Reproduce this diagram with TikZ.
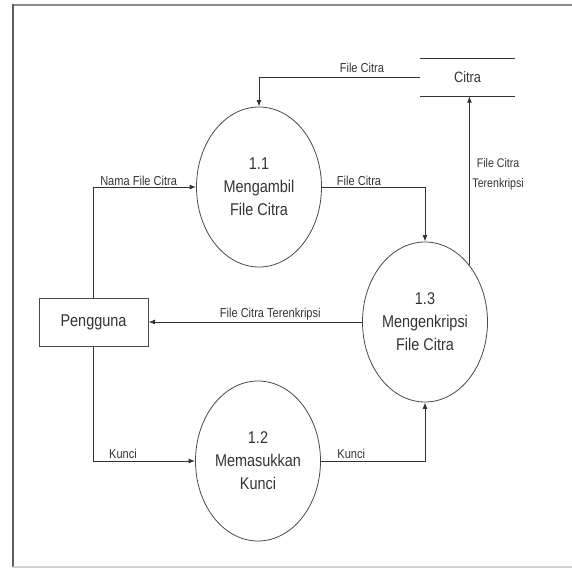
\documentclass[tikz,border=0pt]{standalone}
\usepackage{fontspec}
\setmainfont{Liberation Sans}[FakeStretch=0.85]
\usepackage{tikz}
\usetikzlibrary{arrows.meta,positioning,shapes.geometric}
\definecolor{Ink}{HTML}{333333}
\definecolor{Edge}{HTML}{4A4A4A}
\definecolor{FrmDark}{HTML}{5E5E5E}
\definecolor{FrmSoft}{HTML}{8C8C8C}
\definecolor{FrmLite}{HTML}{CFCFCF}
\tikzset{
  every picture/.append style={>=Latex, text=Ink},
  proc/.style={ellipse, draw=Edge, line width=0.8pt, align=center, inner sep=0pt,
               minimum width=125pt, minimum height=160pt,
               font=\fontsize{17}{23}\selectfont},
  ent/.style={rectangle, draw=Edge, line width=1pt, minimum width=109pt, minimum height=48pt,
              font=\fontsize{17}{20}\selectfont},
  store/.style={rectangle, minimum width=95pt, minimum height=37pt, inner sep=0pt,
                font=\fontsize{15}{18}\selectfont},
  flow/.style={-{Latex[length=6.5pt,width=5pt]}, line width=1pt, draw=Ink},
  lbl/.style={font=\fontsize{13}{15}\selectfont, inner sep=0.5pt, anchor=base},
}

\begin{document}
\begin{tikzpicture}[x=1pt,y=-1pt]
\useasboundingbox (0,0) rectangle (572,573);

% ---------------- frame ----------------------------------------------------------------
\draw[FrmSoft, line width=1.5pt] (572,5) -- (13,5);
\draw[FrmDark, line width=2pt] (13,4.3) -- (13,567);
\draw[FrmLite, line width=1.5pt] (13,567) -- (572,567);

% ---------------- processes, entity, store ---------------------------------------------
\foreach \n/\x/\y/\t in {p11/259/187/{1.1\\Mengambil\\File Citra},
                         p12/258/461/{1.2\\Memasukkan\\Kunci},
                         p13/425/322/{1.3\\Mengenkripsi\\File Citra}}{
  \node[proc] (\n) at (\x,\y) {\t};
}
\node[ent] (user) at (93.5,322) {Pengguna};
\node[store] (citra) at (467.5,77.5) {Citra};
\draw[Ink, line width=1.2pt] (citra.north west) -- (citra.north east)
                             (citra.south west) -- (citra.south east);

% ---------------- flows ------------------------------------------------------------------
\draw[flow] (citra.west) -| (p11.north) node[lbl, pos=0.18, yshift=5pt] {File Citra};
\draw[flow] (user.north) |- (p11.west) node[lbl, pos=0.72, yshift=1.5pt] {Nama File Citra};
\draw[flow] (p11.east) -| (p13.north) node[lbl, pos=0.18, yshift=1.5pt] {File Citra};
\draw[flow] (p13.52) -- (p13.52 |- citra.south)
  node[lbl, pos=0.54, anchor=west, align=center, xshift=2pt,
       font=\fontsize{12.5}{20}\selectfont] {File Citra\\Terenkripsi};
\draw[flow] (p13.west) -- (user.east) node[lbl, pos=0.43, yshift=5pt] {File Citra Terenkripsi};
\draw[flow] (user.south) |- (p12.west) node[lbl, pos=0.645, yshift=3pt] {Kunci};
\draw[flow] (p12.east) -| (p13.south) node[lbl, pos=0.146, yshift=3pt] {Kunci};

\end{tikzpicture}
\end{document}
